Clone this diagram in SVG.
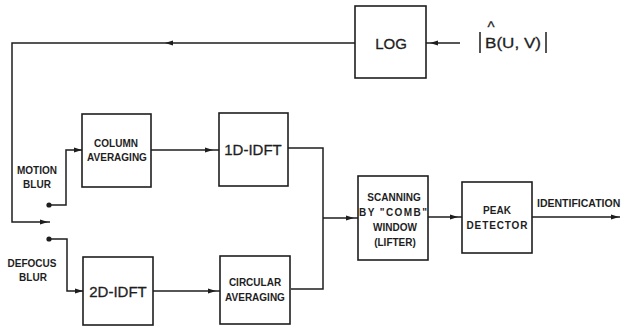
<svg xmlns="http://www.w3.org/2000/svg" xmlns:xlink="http://www.w3.org/1999/xlink" width="622" height="329" viewBox="0 0 622 329">
<style>
.box{fill:none;stroke:#1e1e1e;stroke-width:1.6}
.ln{fill:none;stroke:#1e1e1e;stroke-width:1.5}
.t{font-family:"Liberation Sans",Arial,sans-serif;font-weight:bold;font-size:10px;fill:#1e1e1e;text-anchor:middle}
.tl{font-family:"Liberation Sans",Arial,sans-serif;font-size:15px;fill:#1e1e1e;text-anchor:middle;stroke:#1e1e1e;stroke-width:0.3}
</style>
<defs>
<path id="ah" d="M0,0 L-8,-2.6 L-8,2.6 Z" fill="#1e1e1e"/>
</defs>
<rect width="622" height="329" fill="#ffffff"/>
<g id="connectors">
<path class="ln" d="M460,43 H426"/>
<use xlink:href="#ah" transform="translate(430,43) rotate(180)"/>
<path class="ln" d="M355,43 H12 V222 H50"/>
<use xlink:href="#ah" transform="translate(165,43) rotate(180)"/>
<use xlink:href="#ah" transform="translate(48,222)"/>
<circle cx="49" cy="205" r="2.6" fill="#1e1e1e"/>
<path class="ln" d="M49,205 H66 V150 H82"/>
<use xlink:href="#ah" transform="translate(82,150)"/>
<circle cx="49" cy="239" r="2.6" fill="#1e1e1e"/>
<path class="ln" d="M49,239 H67 V291 H83"/>
<use xlink:href="#ah" transform="translate(83,291)"/>
<path class="ln" d="M151,150 H219"/>
<use xlink:href="#ah" transform="translate(213,150)"/>
<path class="ln" d="M153,291 H220"/>
<use xlink:href="#ah" transform="translate(216,291)"/>
<path class="ln" d="M288,148 H323 V289 H291"/>
<path class="ln" d="M323,218 H358"/>
<use xlink:href="#ah" transform="translate(354,218)"/>
<path class="ln" d="M428,217 H462"/>
<use xlink:href="#ah" transform="translate(458,217)"/>
<path class="ln" d="M532,217 H620"/>
<use xlink:href="#ah" transform="translate(619,217)"/>
</g>
<g id="log">
<rect class="box" x="355" y="6" width="71" height="72"/>
<text class="tl" x="391" y="49" font-size="16">LOG</text>
</g>
<g id="input">
<path class="ln" d="M480,32 V53 M546,32 V53" stroke-width="1.3"/>
<text class="tl" x="513" y="48" textLength="56" lengthAdjust="spacingAndGlyphs">B(U, V)</text>
<text class="tl" x="491" y="32" font-size="11">^</text>
</g>
<g id="column-averaging">
<rect class="box" x="82" y="114" width="69" height="73"/>
<text class="t" x="116" y="147">COLUMN</text>
<text class="t" x="117" y="161">AVERAGING</text>
</g>
<g id="idft-1d">
<rect class="box" x="219" y="113" width="69" height="73"/>
<text class="tl" x="253" y="155">1D-IDFT</text>
</g>
<g id="idft-2d">
<rect class="box" x="83" y="257" width="70" height="68"/>
<text class="tl" x="118" y="297">2D-IDFT</text>
</g>
<g id="circular-averaging">
<rect class="box" x="220" y="256" width="70" height="68"/>
<text class="t" x="255" y="286">CIRCULAR</text>
<text class="t" x="255" y="301">AVERAGING</text>
</g>
<g id="scanning">
<rect class="box" x="358" y="176" width="70" height="84"/>
<text class="t" x="394" y="201">SCANNING</text>
<text class="t" x="393" y="216" textLength="68" lengthAdjust="spacing">BY "COMB"</text>
<text class="t" x="395" y="231">WINDOW</text>
<text class="t" x="395" y="246">(LIFTER)</text>
</g>
<g id="peak-detector">
<rect class="box" x="462" y="182" width="70" height="71"/>
<text class="t" x="497" y="214">PEAK</text>
<text class="t" x="497" y="229" textLength="61" lengthAdjust="spacing">DETECTOR</text>
</g>
<g id="labels">
<text class="t" x="37" y="174">MOTION</text>
<text class="t" x="37" y="188">BLUR</text>
<text class="t" x="32" y="267">DEFOCUS</text>
<text class="t" x="33" y="281">BLUR</text>
<text class="t" x="537" y="207" style="text-anchor:start;font-size:10.5px">IDENTIFICATION</text>
</g>
</svg>
